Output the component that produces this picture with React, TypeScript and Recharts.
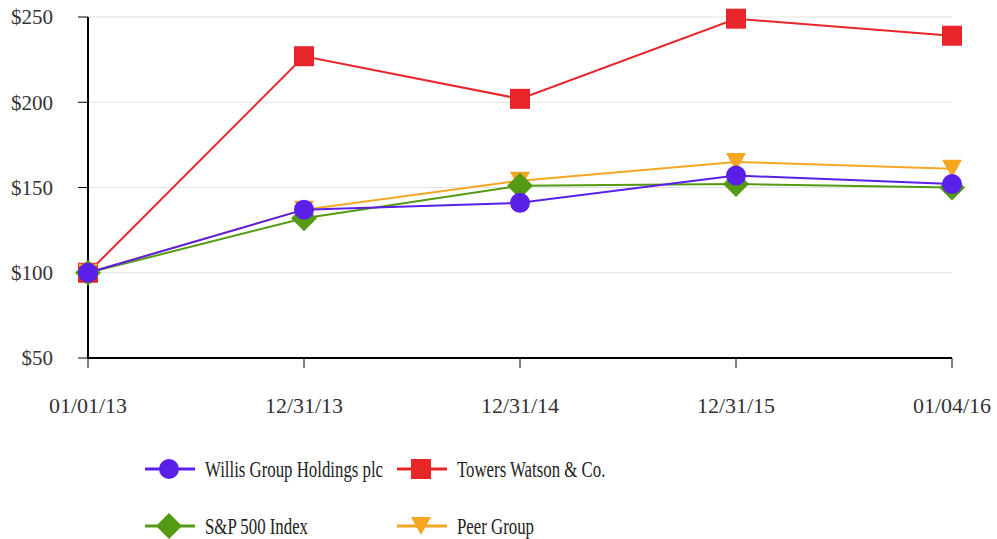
import React from "react";
import { CartesianGrid, Line, LineChart, XAxis, YAxis } from "recharts";

const dates = ["01/01/13", "12/31/13", "12/31/14", "12/31/15", "01/04/16"];
const willis = [100, 137, 141, 157, 152];
const towers = [100, 227, 202, 249, 239];
const sp500 = [100, 132, 151, 152, 150];
const peer = [100, 137, 154, 165, 161];
const yTicks = [50, 100, 150, 200, 250];

type Shape = "circle" | "square" | "diamond" | "triangle";

const series: { key: string; name: string; color: string; shape: Shape; values: number[] }[] = [
  { key: "towers", name: "Towers Watson & Co.", color: "#e8262a", shape: "square", values: towers },
  { key: "peer", name: "Peer Group", color: "#f5a623", shape: "triangle", values: peer },
  { key: "sp", name: "S&P 500 Index", color: "#549a12", shape: "diamond", values: sp500 },
  { key: "willis", name: "Willis Group Holdings plc", color: "#5a1fe8", shape: "circle", values: willis },
];

const legendOrder = ["willis", "towers", "sp", "peer"];

const data = dates.map((d, i) => {
  const row: Record<string, string | number> = { date: d };
  series.forEach((s) => (row[s.key] = s.values[i]));
  return row;
});

const FONT = "'Liberation Serif', 'Times New Roman', serif";

function Marker({ cx, cy, shape, color }: { cx: number; cy: number; shape: Shape; color: string }) {
  if (shape === "circle") return <circle cx={cx} cy={cy} r={10} fill={color} />;
  if (shape === "square") return <rect x={cx - 10} y={cy - 10} width={20} height={20} fill={color} />;
  if (shape === "diamond")
    return <polygon points={`${cx},${cy - 13} ${cx + 13},${cy} ${cx},${cy + 13} ${cx - 13},${cy}`} fill={color} />;
  return <polygon points={`${cx - 10},${cy - 9} ${cx + 10},${cy - 9} ${cx},${cy + 9}`} fill={color} />;
}

export default function App() {
  return (
    <div style={{ position: "relative", width: 997, height: 539, background: "#fff", fontFamily: FONT }}>
      <style>{`body{margin:0}`}</style>
      <LineChart width={997} height={430} data={data} margin={{ top: 17, right: 45, left: 0, bottom: 0 }}>
        <CartesianGrid horizontal vertical={false} stroke="#e2e2e2" />
        <XAxis
          dataKey="date"
          height={72}
          tickSize={10}
          tickMargin={29}
          axisLine={{ stroke: "#000", strokeWidth: 2 }}
          tickLine={{ stroke: "#000" }}
          tick={{ fill: "#333", fontSize: 22, fontFamily: FONT }}
        />
        <YAxis
          width={88}
          domain={[50, 250]}
          ticks={yTicks}
          tickFormatter={(v: number) => `$${v}`}
          tickSize={10}
          tickMargin={25}
          axisLine={{ stroke: "#000", strokeWidth: 2 }}
          tickLine={{ stroke: "#000" }}
          tick={{ fill: "#333", fontSize: 21, fontFamily: FONT }}
        />
        {series.map((s) => (
          <Line
            key={s.key}
            type="linear"
            dataKey={s.key}
            name={s.name}
            stroke={s.color}
            strokeWidth={2}
            isAnimationActive={false}
            dot={(p: any) => <Marker key={`${s.key}-${p.index}`} cx={p.cx} cy={p.cy} shape={s.shape} color={s.color} />}
            activeDot={false}
          />
        ))}
      </LineChart>
      {legendOrder.map((k, i) => {
        const s = series.find((x) => x.key === k)!;
        const col = i % 2;
        const row = Math.floor(i / 2);
        const left = col === 0 ? 145 : 397;
        const top = row === 0 ? 469 : 526;
        return (
          <div
            key={k}
            style={{ position: "absolute", left, top: top - 15, height: 30, display: "flex", alignItems: "center", whiteSpace: "nowrap" }}
          >
            <svg width={52} height={30}>
              <line x1={0} y1={15} x2={50} y2={15} stroke={s.color} strokeWidth={3} />
              <Marker cx={24} cy={15} shape={s.shape} color={s.color} />
            </svg>
            <span
              style={{
                marginLeft: 8,
                fontSize: 24,
                color: "#222",
                display: "inline-block",
                transform: "scaleX(0.7)",
                transformOrigin: "left center",
              }}
            >
              {s.name}
            </span>
          </div>
        );
      })}
    </div>
  );
}
